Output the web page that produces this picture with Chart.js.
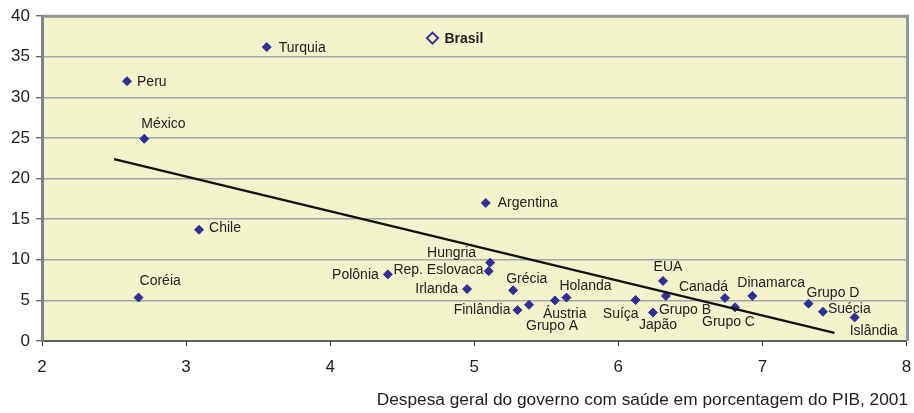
<!DOCTYPE html>
<html>
<head>
<meta charset="utf-8">
<script src="https://cdn.jsdelivr.net/npm/chart.js@4.4.1/dist/chart.umd.min.js"></script>
<style>
  body { margin: 0; background: #fff; }
  canvas { display: block; }
</style>
</head>
<body>
<canvas id="grafico" width="914" height="413"></canvas>
<script>
// dados por pais
var paises = ["Peru", "México", "Coréia", "Chile", "Turquia", "Brasil", "Polônia", "Irlanda", "Argentina",
    "Rep. Eslovaca", "Hungria", "Grécia", "Finlândia", "Grupo A", "Áustria", "Holanda", "Suíça", "Japão",
    "EUA", "Grupo B", "Canadá", "Grupo C", "Dinamarca", "Grupo D", "Suécia", "Islândia"];
var despesaSaude = [2.59, 2.71, 2.67, 3.09, 3.56, 4.71, 4.40, 4.95, 5.08,
    5.10, 5.11, 5.27, 5.30, 5.38, 5.56, 5.64, 6.12, 6.24,
    6.31, 6.33, 6.74, 6.81, 6.93, 7.32, 7.42, 7.64];
var indicador = [32.0, 24.9, 5.35, 13.7, 36.2, 37.3, 8.2, 6.4, 17.0,
    8.6, 9.65, 6.25, 3.8, 4.45, 5.0, 5.35, 5.05, 3.5,
    7.4, 5.55, 5.3, 4.15, 5.55, 4.6, 3.6, 2.9];

// reta de tendencia
var tendenciaX = [2.5, 7.5];
var tendenciaY = [22.4, 1.0];

// ticks dos eixos
var ticksX = [2, 3, 4, 5, 6, 7, 8];
var ticksY = [0, 5, 10, 15, 20, 25, 30, 35, 40];

var tituloX = "Despesa geral do governo com saúde em porcentagem do PIB, 2001";

var azul = "#2e3192";
var fundo = "#f2f3cc";

// posicao do rotulo em relacao ao ponto: [alinhamento, dx, dy]
var rotulos = {
    "Peru": ["left", 10, 1],
    "México": ["left", -3, -15],
    "Coréia": ["left", 1, -16],
    "Chile": ["left", 10, -2],
    "Turquia": ["left", 12, 1],
    "Brasil": ["left", 12, 1],
    "Polônia": ["right", -9, 1],
    "Irlanda": ["right", -9, 0],
    "Argentina": ["left", 12, 0],
    "Rep. Eslovaca": ["right", -5, -1],
    "Hungria": ["right", -14, -10],
    "Grécia": ["left", -7, -11],
    "Finlândia": ["right", -7, 0],
    "Grupo A": ["left", -3, 21],
    "Áustria": ["left", -12, 14],
    "Holanda": ["left", -7, -11],
    "Suíça": ["right", 3, 14],
    "Japão": ["left", -14, 13],
    "EUA": ["center", 5, -14],
    "Grupo B": ["left", -7, 14],
    "Canadá": ["right", 3, -11],
    "Grupo C": ["left", -33, 15],
    "Dinamarca": ["left", -15, -13],
    "Grupo D": ["left", -2, -11],
    "Suécia": ["left", 5, -3],
    "Islândia": ["left", -5, 14]
};

var pontos = paises.map(function(p, i) {
    return { x: despesaSaude[i], y: indicador[i] };
});
var reta = tendenciaX.map(function(x, i) {
    return { x: x, y: tendenciaY[i] };
});

var fonte = "'Liberation Sans', Arial, sans-serif";

var moldura = {
    id: "moldura",
    beforeDraw: function(chart) {
        var a = chart.chartArea, ctx = chart.ctx;
        ctx.save();
        ctx.fillStyle = fundo;
        ctx.fillRect(a.left, a.top, a.right - a.left, a.bottom - a.top);
        ctx.restore();
    },
    beforeDatasetsDraw: function(chart) {
        var a = chart.chartArea, ctx = chart.ctx;
        ctx.save();
        ctx.strokeStyle = "#8d969b";
        ctx.lineWidth = 3;
        ctx.beginPath();
        ctx.moveTo(a.left, a.top);
        ctx.lineTo(a.right + 1, a.top);
        ctx.lineTo(a.right + 1, a.bottom);
        ctx.stroke();
        ctx.restore();
    },
    afterDraw: function(chart) {
        var ctx = chart.ctx;
        ctx.save();
        ctx.font = "17.3px " + fonte;
        ctx.fillStyle = "#222";
        ctx.textAlign = "right";
        ctx.textBaseline = "alphabetic";
        ctx.fillText(tituloX, 908, 405);
        ctx.restore();
    }
};

var nomes = {
    id: "nomes",
    afterDatasetsDraw: function(chart) {
        var ctx = chart.ctx;
        var meta = chart.getDatasetMeta(1);
        ctx.save();
        ctx.fillStyle = "#222";
        ctx.textBaseline = "middle";
        meta.data.forEach(function(pt, i) {
            var nome = paises[i];
            var r = rotulos[nome] || ["left", 8, 0];
            ctx.font = (nome === "Brasil" ? "bold " : "") + "14px " + fonte;
            ctx.textAlign = r[0];
            ctx.fillText(nome, pt.x + r[1], pt.y + r[2]);
        });
        ctx.restore();
    }
};

var ctx = document.getElementById("grafico").getContext("2d");
var grafico = new Chart(ctx, {
    type: "scatter",
    data: {
        datasets: [{
            type: "line",
            data: reta,
            borderColor: "#111",
            borderWidth: 2.2,
            pointRadius: 0,
            fill: false
        }, {
            data: pontos,
            pointStyle: "rectRot",
            pointRadius: paises.map(function(p) { return p === "Brasil" ? 5.5 : 4.5; }),
            pointBackgroundColor: paises.map(function(p) { return p === "Brasil" ? fundo : azul; }),
            pointBorderColor: azul,
            pointBorderWidth: paises.map(function(p) { return p === "Brasil" ? 2 : 1; })
        }]
    },
    options: {
        responsive: false,
        animation: false,
        devicePixelRatio: 1,
        layout: { padding: { top: 15, right: 0, left: 0, bottom: 0 } },
        plugins: {
            legend: { display: false },
            tooltip: { enabled: false }
        },
        scales: {
            x: {
                type: "linear",
                min: ticksX[0],
                max: ticksX[ticksX.length - 1],
                afterBuildTicks: function(s) { s.ticks = ticksX.map(function(v) { return { value: v }; }); },
                afterFit: function(s) { s.height = 72; s.paddingRight = 6; },
                ticks: { color: "#222", font: { family: fonte, size: 17 }, padding: 11 },
                grid: { drawOnChartArea: false, tickLength: 5, tickColor: "#333", tickWidth: 1 },
                border: { color: "#5b6266", width: 2 }
            },
            y: {
                min: ticksY[0],
                max: ticksY[ticksY.length - 1],
                afterBuildTicks: function(s) { s.ticks = ticksY.map(function(v) { return { value: v }; }); },
                afterFit: function(s) { s.width = 42; },
                ticks: { color: "#222", font: { family: fonte, size: 17 }, padding: 6 },
                grid: { color: "#a0a8ac", lineWidth: 1.5, tickLength: 6, tickColor: "#333", tickWidth: 1 },
                border: { color: "#7b8388", width: 3 }
            }
        }
    },
    plugins: [moldura, nomes]
});
</script>
</body>
</html>
